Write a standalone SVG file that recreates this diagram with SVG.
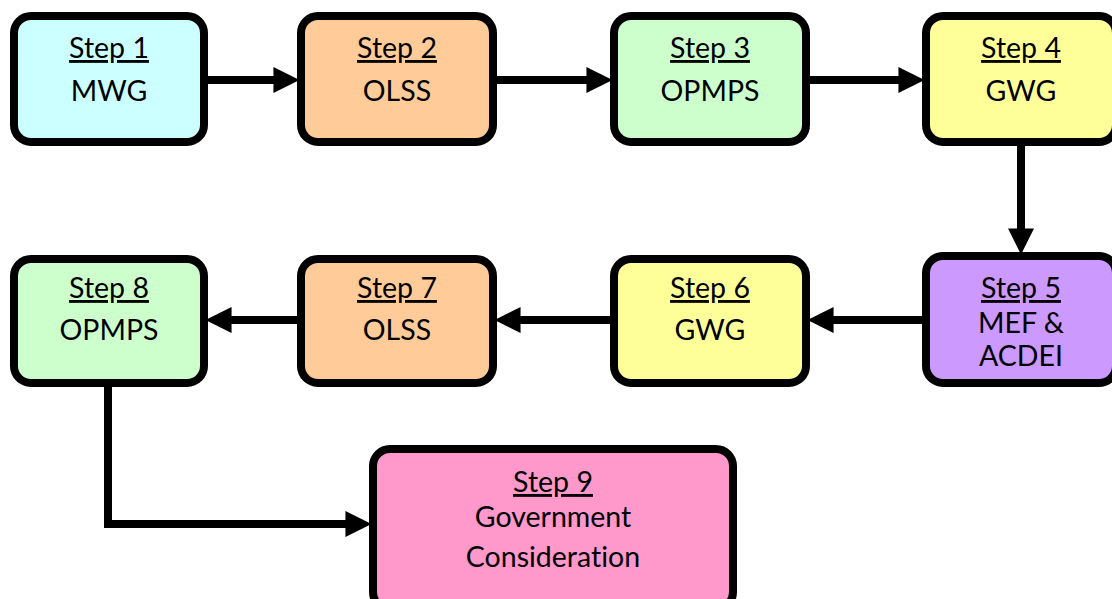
<svg xmlns="http://www.w3.org/2000/svg" width="1112" height="599" viewBox="0 0 1112 599">
<style>
.box{stroke:#000;stroke-width:8}
.t{font-family:Lato,"Open Sans","Liberation Sans",sans-serif;font-size:28.5px;fill:#000;text-anchor:middle;font-variant-ligatures:none;font-feature-settings:"liga" 0,"clig" 0,"dlig" 0;letter-spacing:0.01px}
.u{text-decoration:underline}
.c{fill:none;stroke:#000;stroke-width:8}
</style>
<defs>
<marker id="ah" markerUnits="userSpaceOnUse" markerWidth="26" markerHeight="26" viewBox="0 0 24 24" refX="0.5" refY="12" orient="auto">
<path d="M0,0 L24,12 L0,24 Z" fill="#000"/>
</marker>
</defs>
<rect width="1112" height="599" fill="#fff"/>
<g id="connectors">
<path class="c" d="M208,80 H274" marker-end="url(#ah)"/>
<path class="c" d="M497,80 H587" marker-end="url(#ah)"/>
<path class="c" d="M810,80 H899" marker-end="url(#ah)"/>
<path class="c" d="M1021,146 V229" marker-end="url(#ah)"/>
<path class="c" d="M922,320 H833" marker-end="url(#ah)"/>
<path class="c" d="M610,320 H520" marker-end="url(#ah)"/>
<path class="c" d="M297,320 H231" marker-end="url(#ah)"/>
<path class="c" d="M108,385 V524 H346" marker-end="url(#ah)"/>
</g>
<g id="step1">
<rect class="box" x="14" y="16" width="190" height="126" rx="17" fill="#CCFFFF"/>
<text class="t u" x="109" y="58">Step 1</text>
<text class="t" x="109" y="101">MWG</text>
</g>
<g id="step2">
<rect class="box" x="301" y="16" width="192" height="126" rx="17" fill="#FFCC99"/>
<text class="t u" x="397" y="58">Step 2</text>
<text class="t" x="397" y="101">OLSS</text>
</g>
<g id="step3">
<rect class="box" x="614" y="16" width="192" height="126" rx="17" fill="#CCFFCC"/>
<text class="t u" x="710" y="58">Step 3</text>
<text class="t" x="710" y="101">OPMPS</text>
</g>
<g id="step4">
<rect class="box" x="926" y="16" width="190" height="126" rx="17" fill="#FFFF99"/>
<text class="t u" x="1021" y="58">Step 4</text>
<text class="t" x="1021" y="101">GWG</text>
</g>
<g id="step5">
<rect class="box" x="926" y="256" width="190" height="127" rx="17" fill="#CC99FF"/>
<text class="t u" x="1021" y="298">Step 5</text>
<text class="t" x="1021" y="333">MEF &amp;</text>
<text class="t" x="1021" y="366">ACDEI</text>
</g>
<g id="step6">
<rect class="box" x="614" y="259" width="192" height="124" rx="17" fill="#FFFF99"/>
<text class="t u" x="710" y="298">Step 6</text>
<text class="t" x="710" y="340">GWG</text>
</g>
<g id="step7">
<rect class="box" x="301" y="259" width="192" height="124" rx="17" fill="#FFCC99"/>
<text class="t u" x="397" y="298">Step 7</text>
<text class="t" x="397" y="340">OLSS</text>
</g>
<g id="step8">
<rect class="box" x="14" y="259" width="190" height="124" rx="17" fill="#CCFFCC"/>
<text class="t u" x="109" y="298">Step 8</text>
<text class="t" x="109" y="340">OPMPS</text>
</g>
<g id="step9">
<rect class="box" x="373" y="449" width="360" height="160" rx="17" fill="#FF99CC"/>
<text class="t u" x="553" y="492">Step 9</text>
<text class="t" x="553" y="527">Government</text>
<text class="t" x="553" y="567">Consideration</text>
</g>
</svg>
